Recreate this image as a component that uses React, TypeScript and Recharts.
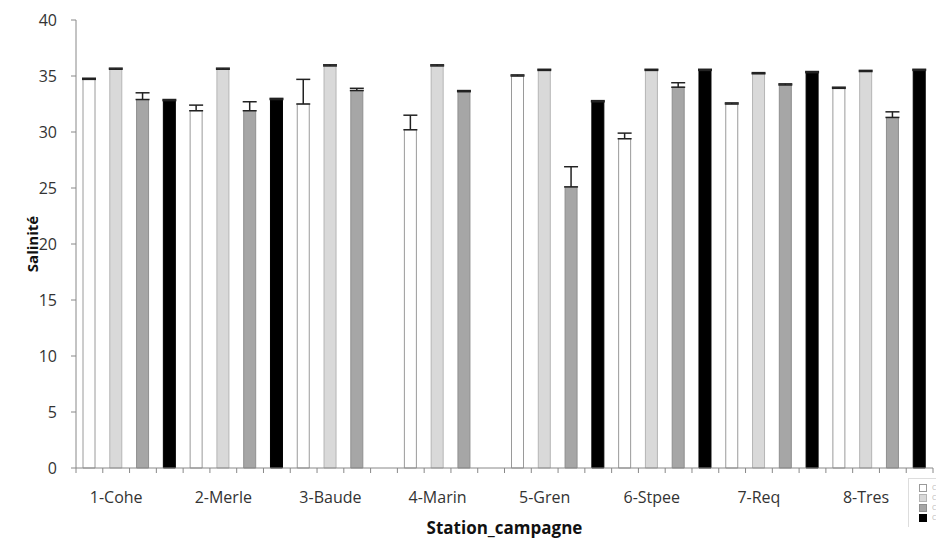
import React from 'react';
import { BarChart, Bar, XAxis, YAxis, Cell, ErrorBar, Label } from 'recharts';

const stations = ['1-Cohe', '2-Merle', '3-Baude', '4-Marin', '5-Gren', '6-Stpee', '7-Req', '8-Tres'];
const campaigns = ['C1', 'C2', 'C3', 'C4'];

// salinity per campaign, one value per station (null = not sampled)
const camp1 = [34.7, 31.9, 32.5, 30.2, 35.0, 29.4, 32.5, 33.9];
const camp2 = [35.6, 35.6, 35.9, 35.9, 35.5, 35.5, 35.2, 35.4];
const camp3 = [32.9, 31.9, 33.7, 33.6, 25.1, 34.0, 34.2, 31.3];
const camp4 = [32.8, 32.9, null, null, 32.7, 35.5, 35.3, 35.5];

// standard deviation (upper bar only)
const err1 = [0.1, 0.5, 2.2, 1.3, 0.1, 0.5, 0.1, 0.1];
const err2 = [0.1, 0.1, 0.1, 0.1, 0.1, 0.1, 0.1, 0.1];
const err3 = [0.6, 0.8, 0.2, 0.1, 1.8, 0.4, 0.1, 0.5];
const err4 = [0.1, 0.1, null, null, 0.1, 0.1, 0.1, 0.1];

const yTicks = [0, 5, 10, 15, 20, 25, 30, 35, 40];

const fills = ['#ffffff', '#d9d9d9', '#a6a6a6', '#000000'];
const strokes = ['#9a9a9a', '#b5b5b5', '#8f8f8f', '#000000'];

const values = [camp1, camp2, camp3, camp4];
const errors = [err1, err2, err3, err4];

const rows = stations.flatMap((s, i) =>
    campaigns.map((c, j) => ({
        key: `${s}|${j}`,
        station: s,
        campaign: j,
        value: values[j][i],
        err: values[j][i] == null ? null : [0, errors[j][i]],
    }))
);

const W = 936;
const H = 540;
const MARGIN = { top: 12, right: 11, bottom: 10, left: 8 };
const Y_W = 60;
const PLOT_W = W - MARGIN.left - MARGIN.right - Y_W;
const STEP = PLOT_W / rows.length;
const FONT = '"Open Sans", Lato, sans-serif';

const XTick = (props: any) => {
    const { x, y, index } = props;
    const top = y - 8;
    const row = rows[index];
    return (
        <g>
            <line x1={x - STEP / 2} x2={x - STEP / 2} y1={top} y2={top + 5} stroke="#888" />
            {index === rows.length - 1 && (
                <line x1={x + STEP / 2} x2={x + STEP / 2} y1={top} y2={top + 5} stroke="#888" />
            )}
            {row && row.campaign === 1 && (
                <text x={x} y={top + 35} textAnchor="middle" fontSize={16} fill="#333" fontFamily={FONT}>
                    {row.station}
                </text>
            )}
        </g>
    );
};

const App = () => {
    return (
        <div style={{ position: 'relative', width: W, height: H, fontFamily: FONT }}>
            <BarChart width={W} height={H} data={rows} margin={MARGIN} barCategoryGap={0}>
                <XAxis
                    dataKey="key"
                    interval={0}
                    tickLine={false}
                    tick={<XTick />}
                    height={70}
                    axisLine={{ stroke: '#888' }}
                >
                    <Label value="Station_campagne" position="insideBottom" offset={4} style={{ fontSize: 17, fontWeight: 'bold', fill: '#111', fontFamily: FONT }} />
                </XAxis>
                <XAxis xAxisId="top" orientation="top" dataKey="key" tick={false} tickLine={false} height={0} axisLine={{ stroke: '#999' }} />
                <YAxis
                    domain={[0, 40]}
                    ticks={yTicks}
                    width={Y_W}
                    tickSize={5}
                    tickMargin={14}
                    tick={{ fontSize: 16, fill: '#333', fontFamily: FONT }}
                    tickLine={{ stroke: '#888' }}
                    axisLine={{ stroke: '#888' }}
                >
                    <Label value="Salinité" angle={-90} position="insideLeft" offset={17} style={{ textAnchor: 'middle', fontSize: 15, fontWeight: 'bold', fill: '#111', fontFamily: FONT }} />
                </YAxis>
                <YAxis yAxisId="right" orientation="right" domain={[0, 40]} width={0} tick={false} tickLine={false} axisLine={{ stroke: '#999' }} />
                <Bar dataKey="value" barSize={12} isAnimationActive={false}>
                    {rows.map((r) => (
                        <Cell key={r.key} fill={fills[r.campaign]} stroke={strokes[r.campaign]} strokeWidth={1} />
                    ))}
                    <ErrorBar dataKey="err" width={7} stroke="#222" strokeWidth={1.5} direction="y" />
                </Bar>
            </BarChart>
            <div
                style={{
                    position: 'absolute',
                    left: 900,
                    top: 470,
                    width: 36,
                    height: 48,
                    overflow: 'hidden',
                    borderLeft: '1px solid #ddd',
                    borderTop: '1px solid #ddd',
                    background: '#fff',
                }}
            >
                {campaigns.map((c, j) => (
                    <div key={c} style={{ display: 'flex', alignItems: 'center', height: 10, marginTop: j === 0 ? 4 : 0, paddingLeft: 10 }}>
                        <span style={{ flexShrink: 0, width: 6, height: 6, background: fills[j], border: `1px solid ${strokes[j]}`, display: 'inline-block' }} />
                        <span style={{ fontSize: 7, lineHeight: '8px', color: '#bbb', marginLeft: 5, whiteSpace: 'nowrap' }}>{c}</span>
                    </div>
                ))}
            </div>
        </div>
    );
};

export default App;
